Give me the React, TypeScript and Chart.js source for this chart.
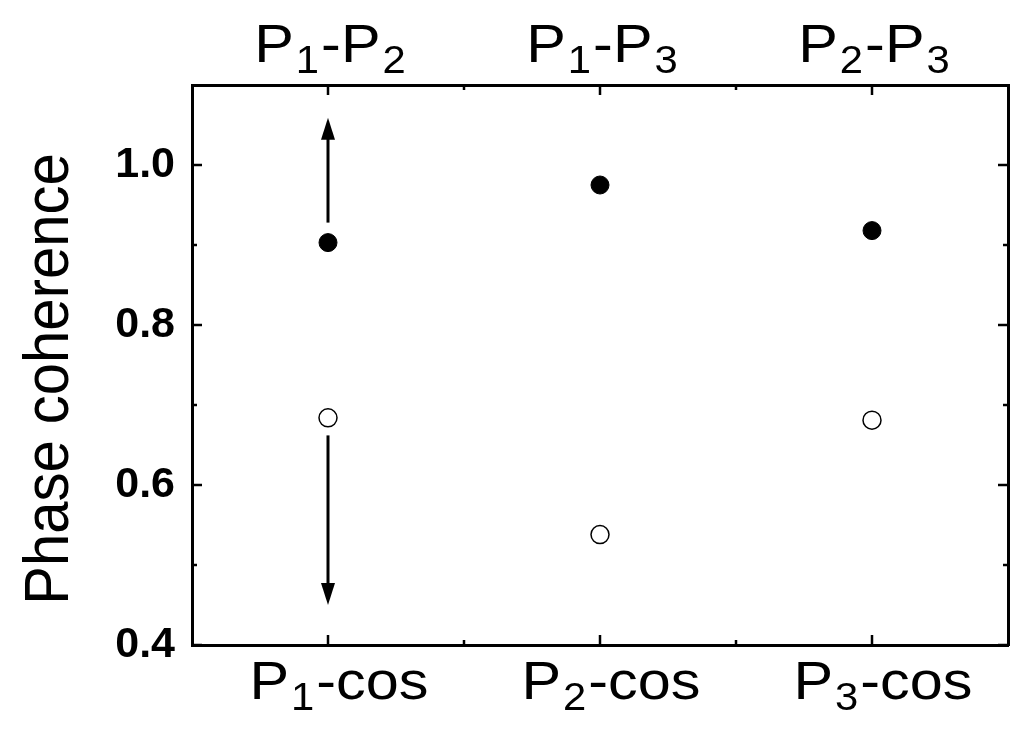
import React, { useEffect, useRef } from 'react';
import { Chart, registerables } from 'chart.js';

Chart.register(...registerables);

// ---- data ----
const categoryPositions = [1, 2, 3];
const topLabels = ['P_1-P_2', 'P_1-P_3', 'P_2-P_3'];
const bottomLabels = ['P_1-cos', 'P_2-cos', 'P_3-cos'];
const pairCoherence = [0.903, 0.975, 0.918];
const cosCoherence = [0.684, 0.538, 0.681];
const yTickValues = [0.4, 0.6, 0.8, 1.0];
const yMinorTicks = [0.5, 0.7, 0.9];
const xMinorTicks = [1.5, 2.5];
const arrowX = [1, 1];
const arrowFrom = [0.928, 0.662];
const arrowTo = [1.059, 0.45];
const yTitle = 'Phase coherence';
const yMin = 0.4;
const yMax = 1.1;
const xMin = 0.5;
const xMax = 3.5;

const FONT = "'Liberation Sans', Arial, sans-serif";
const MAIN_FONT = `54px ${FONT}`;
const SUB_FONT = `38px ${FONT}`;
const TITLE_FONT = `58px ${FONT}`;
const STRETCH = 1.1;

function parseSegments(label: string) {
  const segs: { t: string; sub: boolean }[] = [];
  let buf = '';
  for (let i = 0; i < label.length; i++) {
    if (label[i] === '_' && i + 1 < label.length) {
      if (buf) segs.push({ t: buf, sub: false });
      buf = '';
      segs.push({ t: label[i + 1], sub: true });
      i++;
    } else buf += label[i];
  }
  if (buf) segs.push({ t: buf, sub: false });
  return segs;
}

function drawRichLabel(ctx: CanvasRenderingContext2D, label: string, cx: number, baseline: number) {
  const GAP = 2;
  const segs = parseSegments(label).map((s) => {
    ctx.font = s.sub ? SUB_FONT : MAIN_FONT;
    return { ...s, w: ctx.measureText(s.t).width * STRETCH };
  });
  const total = segs.reduce((a, s) => a + s.w + GAP, 0) - GAP;
  let x = cx - total / 2;
  ctx.textAlign = 'left';
  ctx.textBaseline = 'alphabetic';
  ctx.fillStyle = '#000';
  segs.forEach((s) => {
    ctx.save();
    ctx.font = s.sub ? SUB_FONT : MAIN_FONT;
    ctx.translate(x, s.sub ? baseline + 11 : baseline);
    ctx.scale(STRETCH, 1);
    ctx.fillText(s.t, 0, 0);
    ctx.restore();
    x += s.w + GAP;
  });
}

const decorPlugin = {
  id: 'decor',
  afterDatasetsDraw(chart: any) {
    const ctx: CanvasRenderingContext2D = chart.ctx;
    const xs = chart.scales.x;
    const ys = chart.scales.y;
    const { left, right, top, bottom } = chart.chartArea;
    ctx.save();
    ctx.strokeStyle = '#000';
    ctx.lineWidth = 2.5;
    const MAJOR = 10;
    const MINOR = 5;
    const line = (x1: number, y1: number, x2: number, y2: number) => {
      ctx.beginPath();
      ctx.moveTo(x1, y1);
      ctx.lineTo(x2, y2);
      ctx.stroke();
    };
    // inward tick marks
    yTickValues.forEach((v) => {
      const y = ys.getPixelForValue(v);
      line(left, y, left + MAJOR, y);
      line(right, y, right - MAJOR, y);
    });
    yMinorTicks.forEach((v) => {
      const y = ys.getPixelForValue(v);
      line(left, y, left + MINOR, y);
      line(right, y, right - MINOR, y);
    });
    categoryPositions.forEach((v) => {
      const x = xs.getPixelForValue(v);
      line(x, bottom, x, bottom - MAJOR);
      line(x, top, x, top + MAJOR);
    });
    xMinorTicks.forEach((v) => {
      const x = xs.getPixelForValue(v);
      line(x, bottom, x, bottom - MINOR);
      line(x, top, x, top + MINOR);
    });

    // arrows
    ctx.lineWidth = 3;
    ctx.fillStyle = '#000';
    arrowX.forEach((ax, i) => {
      const x = xs.getPixelForValue(ax);
      const y0 = ys.getPixelForValue(arrowFrom[i]);
      const y1 = ys.getPixelForValue(arrowTo[i]);
      const dir = Math.sign(y1 - y0);
      const headLen = 22;
      const headW = 7;
      line(x, y0, x, y1 - dir * headLen * 0.7);
      ctx.beginPath();
      ctx.moveTo(x, y1);
      ctx.lineTo(x - headW, y1 - dir * headLen);
      ctx.lineTo(x + headW, y1 - dir * headLen);
      ctx.closePath();
      ctx.fill();
    });

    // category labels with subscripts
    categoryPositions.forEach((v, i) => {
      const x = xs.getPixelForValue(v);
      drawRichLabel(ctx, topLabels[i], x + 2, 62);
      drawRichLabel(ctx, bottomLabels[i], x + 11, 699);
    });

    // y-axis title (rotated)
    ctx.save();
    ctx.translate(left - 124, (top + bottom) / 2 + 14);
    ctx.rotate(-Math.PI / 2);
    ctx.scale(1, 1.1);
    ctx.font = TITLE_FONT;
    ctx.textAlign = 'center';
    ctx.textBaseline = 'alphabetic';
    ctx.fillStyle = '#000';
    ctx.fillText(yTitle, 0, 0);
    ctx.restore();

    ctx.restore();
  },
};

export default function App() {
  const ref = useRef<HTMLCanvasElement>(null);
  useEffect(() => {
    const border = { display: true, color: '#000', width: 3 };
    const chart = new Chart(ref.current!, {
      type: 'scatter',
      data: {
        datasets: [
          {
            label: 'pairs',
            data: categoryPositions.map((x, i) => ({ x, y: pairCoherence[i] })),
            backgroundColor: '#000',
            borderColor: '#000',
            borderWidth: 1,
            pointRadius: 9,
            pointHoverRadius: 9,
          },
          {
            label: 'cos',
            data: categoryPositions.map((x, i) => ({ x, y: cosCoherence[i] })),
            backgroundColor: '#fff',
            borderColor: '#000',
            borderWidth: 1.5,
            pointRadius: 9,
            pointHoverRadius: 9,
          },
        ],
      },
      options: {
        animation: false,
        responsive: true,
        maintainAspectRatio: false,
        events: [],
        layout: { padding: 0 },
        plugins: { legend: { display: false }, tooltip: { enabled: false } },
        scales: {
          x: {
            type: 'linear',
            position: 'bottom',
            min: xMin,
            max: xMax,
            grid: { display: false, drawTicks: false },
            ticks: { display: false },
            border,
            afterFit: (s: any) => {
              s.height = 85;
            },
          },
          x2: {
            type: 'linear',
            position: 'top',
            min: xMin,
            max: xMax,
            grid: { display: false, drawTicks: false },
            ticks: { display: false },
            border,
            afterFit: (s: any) => {
              s.height = 85;
            },
          },
          y: {
            type: 'linear',
            position: 'left',
            min: yMin,
            max: yMax,
            grid: { display: false, drawTicks: false },
            border,
            afterBuildTicks: (s: any) => {
              s.ticks = yTickValues.map((value) => ({ value }));
            },
            ticks: {
              color: '#000',
              padding: 17,
              font: { family: FONT, size: 43, weight: 'bold' },
              callback: (v: any) => Number(v).toFixed(1),
            },
            title: { display: false, text: yTitle },
            afterFit: (s: any) => {
              s.width = 192;
            },
          },
          y2: {
            type: 'linear',
            position: 'right',
            min: yMin,
            max: yMax,
            grid: { display: false, drawTicks: false },
            ticks: { display: false },
            border,
            afterFit: (s: any) => {
              s.width = 16;
            },
          },
        },
      },
      plugins: [decorPlugin],
    } as any);
    return () => chart.destroy();
  }, []);
  return (
    <div style={{ position: 'fixed', left: 0, top: 0, width: 1024, height: 730, background: '#fff' }}>
      <canvas ref={ref} />
    </div>
  );
}
